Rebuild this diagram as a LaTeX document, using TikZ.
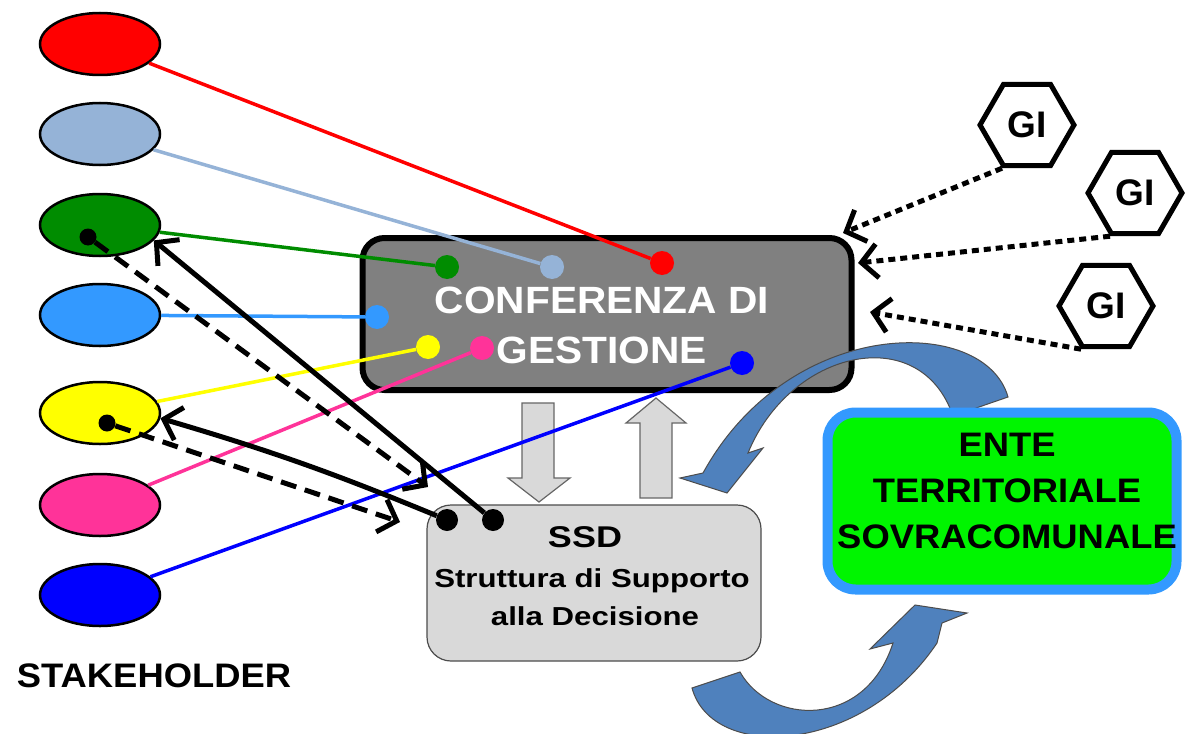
\documentclass[tikz,border=0pt]{standalone}
\usepackage{fontspec}
\setmainfont{Liberation Sans}
\newfontfamily\widefont{Liberation Sans}[FakeStretch=1.07]
\newfontfamily\ssdfont{Liberation Sans}[FakeStretch=1.2]
\usetikzlibrary{arrows.meta,shapes}

\definecolor{shRed}{RGB}{255,0,0}
\definecolor{shSteel}{RGB}{149,179,215}
\definecolor{shGreen}{RGB}{0,140,0}
\definecolor{shAzure}{RGB}{51,153,255}
\definecolor{shYellow}{RGB}{255,255,0}
\definecolor{shPink}{RGB}{255,51,153}
\definecolor{shBlue}{RGB}{0,0,255}
\definecolor{confgray}{RGB}{128,128,128}
\definecolor{ssdgray}{RGB}{217,217,217}
\definecolor{entegreen}{RGB}{0,245,0}
\definecolor{curvblue}{RGB}{79,129,189}

\tikzstyle{stake}=[ellipse,draw,line width=2.5pt,minimum width=120pt,minimum height=62pt,inner sep=0pt]
\tikzstyle{dotnode}=[circle,inner sep=0pt,minimum size=24pt]
\tikzstyle{blackdot}=[circle,fill=black,inner sep=0pt,minimum size=22pt]
\tikzstyle{colline}=[line width=3.5pt]
\tikzstyle{fback}=[draw,line width=5pt,-{Straight Barb[length=16pt,width=34pt]}]
\tikzstyle{gi}=[regular polygon,regular polygon sides=6,draw,line width=5pt,minimum size=94pt,inner sep=0pt,font=\fontsize{37}{40}\selectfont\bfseries]
\tikzstyle{bigtext}=[font=\widefont\fontsize{38}{50}\selectfont\bfseries,align=center]
\tikzstyle{ssdtext}=[anchor=base,font=\ssdfont\fontsize{26}{36}\selectfont\bfseries]
\tikzstyle{blockarrow}=[fill=ssdgray,draw=black!60,line width=1.2pt]
\tikzstyle{curvarrow}=[fill=curvblue,draw=black!70,line width=1pt]

\begin{document}
\begin{tikzpicture}[x=1pt,y=-1pt]

    \useasboundingbox (0,0) rectangle (1185,733);

    % conferenza and ssd
    \node[draw,line width=6pt,fill=confgray,rounded corners=22pt,minimum width=489pt,minimum height=152pt] (conf) at (607,314) {};
    \node[bigtext,text=white] (conftext) at (602,325) {CONFERENZA DI\\GESTIONE};

    \draw[blockarrow] (522,403) -- (554,403) -- (554,478) -- (570,478) -- (539,502) -- (508,478) -- (522,478) -- cycle;
    \draw[blockarrow] (640,498) -- (672,498) -- (672,423) -- (686,423) -- (656,398) -- (626,423) -- (640,423) -- cycle;

    \node[draw=black!70,line width=1.2pt,fill=ssdgray,rounded corners=24pt,minimum width=334pt,minimum height=156pt] (ssd) at (594,583) {};
    \node[ssdtext,font=\ssdfont\fontsize{30}{38}\selectfont\bfseries] (ssdtitle) at (585,547) {SSD};
    \node[ssdtext] (ssdlineA) at (592,587) {Struttura di Supporto};
    \node[ssdtext] (ssdlineB) at (595,625) {alla Decisione};

    % stakeholder
    \foreach \y/\name/\col in {44/shr/shRed, 134/shs/shSteel, 225/shg/shGreen, 315/sha/shAzure, 413/shy/shYellow, 505/shp/shPink, 595/shb/shBlue}
        \node[stake,fill=\col] (\name) at (100,\y) {};

    \node[anchor=base,font=\widefont\fontsize{34}{43}\selectfont\bfseries] (stakelabel) at (154,687) {STAKEHOLDER};

    \foreach \x/\y/\name/\col in {447/267/dg/shGreen, 552/267/ds/shSteel, 662/263/dr/shRed, 377/317/da/shAzure, 428/347/dy/shYellow, 482/348/dp/shPink, 742/363/db/shBlue}
        \node[dotnode,fill=\col] (\name) at (\x,\y) {};

    \foreach \source/\dest/\col in {shr/dr/shRed, shs/ds/shSteel, shg/dg/shGreen, sha/da/shAzure, shy/dy/shYellow, shp/dp/shPink, shb/db/shBlue}
        \draw[colline,\col] (\source) -- (\dest);

    % feedback to ssd
    \node[blackdot,minimum size=17pt] (gdot) at (88,237) {};
    \node[blackdot,minimum size=17pt] (ydot) at (107,423) {};
    \node[blackdot] (ssdA) at (447,520) {};
    \node[blackdot] (ssdB) at (493,520) {};
    \coordinate (dashA) at (428,487);
    \coordinate (dashB) at (400,522);

    \draw[fback,dash pattern=on 16pt off 9pt] (gdot) -- (dashA);
    \draw[fback,dash pattern=on 16pt off 9pt] (ydot) -- (dashB);
    \draw[fback] (ssdB) -- (shg.-16);
    \draw[fback] (ssdA) to[bend right=3] (shy.-5);

    % curved arrows
    \draw[curvarrow] (953,416) -- (1008,397) .. controls (985,315) and (790,315) .. (703,473) -- (680,478) -- (727,493) -- (763,448) -- (748,453) .. controls (790,350) and (920,320) .. (953,416) -- cycle;
    \draw[curvarrow] (740,672) -- (692,688) .. controls (712,762) and (862,755) .. (937,643) -- (942,623) -- (967,613) -- (915,605) -- (870,649) -- (893,643) .. controls (865,730) and (770,725) .. (740,672) -- cycle;

    \node[draw=shAzure,line width=10pt,fill=entegreen,rounded corners=28pt,minimum width=349pt,minimum height=177pt] (ente) at (1002,501) {};
    \node[font=\widefont\fontsize{34}{46}\selectfont\bfseries,align=center] (entetext) at (1007,491) {ENTE\\TERRITORIALE\\SOVRACOMUNALE};

    % GI
    \foreach \x/\y/\name in {1027/125/gia, 1135/193/gib, 1106/306/gic}
        \node[gi] (\name) at (\x,\y) {GI};

    \coordinate (tipa) at (843,233);
    \coordinate (tipb) at (858,263);
    \coordinate (tipc) at (870,312);

    \foreach \source/\dest in {gia/tipa, gib/tipb, gic/tipc}
        \draw[fback,dash pattern=on 7pt off 5pt] (\source.240) -- (\dest);

\end{tikzpicture}
\end{document}
